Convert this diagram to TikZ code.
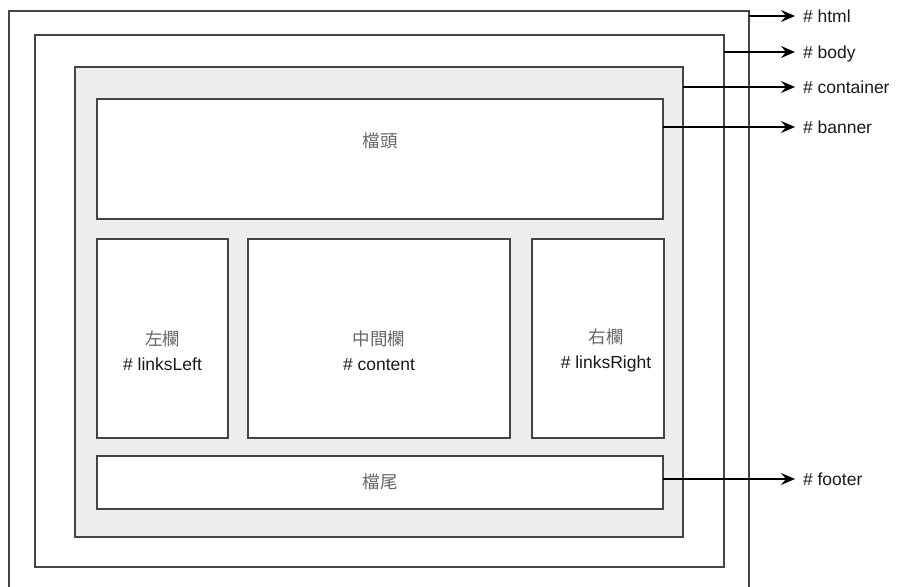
\documentclass[tikz,border=0pt]{standalone}
\usepackage{fontspec}
\setmainfont{Liberation Sans}
\newfontfamily\cjk{Noto Sans CJK TC}
\usetikzlibrary{positioning,arrows.meta}

\definecolor{edgegray}{HTML}{444444}
\definecolor{panefill}{HTML}{EEEEEE}
\definecolor{cjkgray}{HTML}{666666}
\definecolor{tagblack}{HTML}{1A1A1A}

\tikzset{
  frame/.style={draw=edgegray, line width=1.3pt, rectangle, inner sep=0pt,
    outer sep=0pt, anchor=north west},
  pane/.style={frame, fill=white},
  tag/.style={inner sep=0pt, outer sep=0pt, anchor=west, text=tagblack,
    text height=12.5pt, text depth=0pt, font=\fontsize{17.5}{21}\selectfont},
  zone/.style={align=center, inner sep=0pt, text=tagblack,
    font=\fontsize{17.5}{25}\selectfont},
  link/.style={-{Stealth[length=14pt,width=12pt,inset=5pt]}, line width=1.3pt, black}
}

\begin{document}
\begin{tikzpicture}[x=1pt, y=-1pt]
  \useasboundingbox (0,0) rectangle (898,587);
  \clip (0,0) rectangle (898,587);
  % nested page frames
  \node[frame, minimum width=740pt, minimum height=600pt] (html) at (9,11) {};
  \node[frame, minimum width=689pt, minimum height=532pt] (body) at (35,35) {};
  \node[frame, fill=panefill, minimum width=608pt, minimum height=470pt] (container) at (75,67) {};
  % inner panes
  \node[pane, minimum width=566pt, minimum height=120pt] (banner) at (97,99) {};
  \node[pane, minimum width=131pt, minimum height=199pt] (linksLeft) at (97,239) {};
  \node[pane, minimum width=262pt, minimum height=199pt] (content) at (248,239) {};
  \node[pane, minimum width=132pt, minimum height=199pt] (linksRight) at (532,239) {};
  \node[pane, minimum width=566pt, minimum height=53pt] (footer) at (97,456) {};
  % pane texts
  \node[zone] (bannertxt) at ([yshift=18pt]banner.center) {\cjk\color{cjkgray}檔頭};
  \node[zone] (lefttxt) at ([yshift=-12pt]linksLeft.center) {{\cjk\color{cjkgray}左欄}\\\# linksLeft};
  \node[zone] (contenttxt) at ([yshift=-12pt]content.center) {{\cjk\color{cjkgray}中間欄}\\\# content};
  \node[zone] (righttxt) at ([yshift=-12pt,xshift=8pt]linksRight.center) {{\cjk\color{cjkgray}右欄}\\\# linksRight};
  \node[zone] (footertxt) at ([yshift=1pt]footer.center) {\cjk\color{cjkgray}檔尾};
  % id tags on the right
  \node[tag] (htmltag) at (803,16) {\# html};
  \node[tag] (bodytag) at (803,52) {\# body};
  \node[tag] (containertag) at (803,87) {\# container};
  \node[tag] (bannertag) at (803,127) {\# banner};
  \node[tag] (footertag) at (803,479) {\# footer};
  % arrows
  \draw[link] (html.east |- htmltag.west) -- ([xshift=-8pt]htmltag.west);
  \draw[link] (body.east |- bodytag.west) -- ([xshift=-8pt]bodytag.west);
  \draw[link] (container.east |- containertag.west) -- ([xshift=-8pt]containertag.west);
  \draw[link] (banner.east |- bannertag.west) -- ([xshift=-8pt]bannertag.west);
  \draw[link] (footer.east |- footertag.west) -- ([xshift=-8pt]footertag.west);
\end{tikzpicture}
\end{document}
